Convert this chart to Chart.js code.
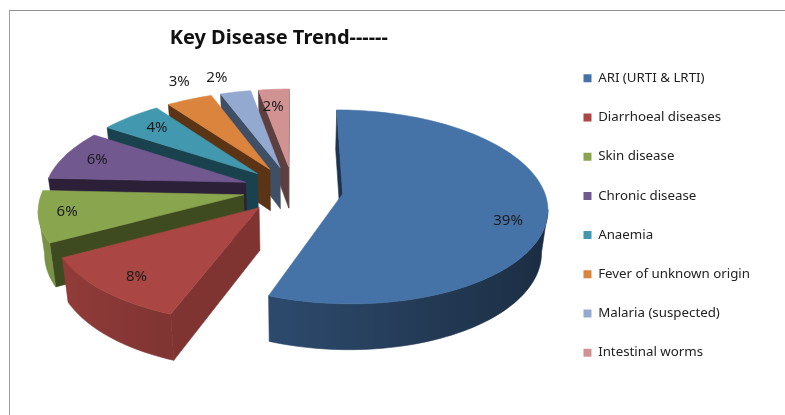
<!DOCTYPE html>
<html>
<head>
<meta charset="utf-8">
<title>Key Disease Trend</title>
<script src="https://cdn.jsdelivr.net/npm/chart.js@4"></script>
<style>
  html, body { margin: 0; padding: 0; background: #fff; width: 785px; height: 415px; overflow: hidden; }
  #frame { position: absolute; left: 9px; top: 10px; width: 776px; height: 405px; border-top: 1.5px solid #8f8f8f; border-left: 1.5px solid #a0a0a0; }
  #myPieChart { position: absolute; left: 0; top: 0; filter: blur(0.35px); }
</style>
</head>
<body>
<div id="frame"></div>
<canvas id="myPieChart" width="785" height="415"></canvas>
<script>
var categories = ["ARI (URTI & LRTI)", "Diarrhoeal diseases", "Skin disease", "Chronic disease", "Anaemia", "Fever of unknown origin", "Malaria (suspected)", "Intestinal worms"];
var percentValues = [39, 8, 6, 6, 4, 3, 2, 2];

var topColors = ['#4572A7', '#AA4643', '#89A54E', '#71588F', '#4198AF', '#DB843D', '#93A9CF', '#D19392'];
var wallColors = ['#1d3450', '#7f3432', '#3e4a20', '#2c2038', '#1a424e', '#5a3414', '#3f4f66', '#5e3f3f'];
var rimLight = [0.58, 0.68, 0.7, 0.4, 0.4, 0.4, 0.45, 0.45];
// how far out each label sits (1 = rim of an unexploded pie), and a small pixel nudge
var labelRadius = [1.05, 1.05, 1.1, 1.07, 1.05, 1.45, 1.5, 1.0];
var labelNudgeX = [2, -1, -3, 0, 3, 4, -9, -4];
var labelNudgeY = [14, 5, -1, 1, 1, -4, 3, 1];

// camera for the tilted pie
var view = { x: 293, y: 189.5, rx: 201, ry: 94, persp: 0.135, explode: 0.25, depth: 42, shrink: 0.975, stretch: 1.034 };

function project(u, v) {
  var w = 1 - view.persp * v;
  return { x: view.x + view.rx * u / w, y: view.y + view.ry * v / w };
}
function drop(p) {
  return { x: view.x + view.shrink * (p.x - view.x), y: view.y + view.depth + view.stretch * (p.y - view.y) };
}
function shade(hex, f) {
  var n = parseInt(hex.slice(1), 16);
  var r = Math.min(255, Math.round((n >> 16) * f));
  var g = Math.min(255, Math.round(((n >> 8) & 255) * f));
  var b = Math.min(255, Math.round((n & 255) * f));
  return 'rgb(' + r + ',' + g + ',' + b + ')';
}
function fillPath(ctx, pts, color) {
  ctx.beginPath();
  ctx.moveTo(pts[0].x, pts[0].y);
  for (var i = 1; i < pts.length; i++) ctx.lineTo(pts[i].x, pts[i].y);
  ctx.closePath();
  ctx.fillStyle = color;
  ctx.strokeStyle = color;
  ctx.lineWidth = 0.6;
  ctx.fill();
  ctx.stroke();
}

// slice outline in pie coordinates, taken from the angles the arc element got from the library
function sliceOutline(arc) {
  var mid = (arc.startAngle + arc.endAngle) / 2;
  var ox = Math.cos(mid) * view.explode, oy = Math.sin(mid) * view.explode;
  var steps = Math.max(4, Math.ceil((arc.endAngle - arc.startAngle) / 0.03));
  var pts = [{ u: 0, p: project(ox, oy), rim: false }];
  for (var s = 0; s <= steps; s++) {
    var a = arc.startAngle + (arc.endAngle - arc.startAngle) * s / steps;
    pts.push({ u: Math.cos(a), p: project(ox + Math.cos(a), oy + Math.sin(a)), rim: true });
  }
  return pts;
}

function drawRim(ctx, run, i) {
  if (run.length < 2) return;
  var xRight = run[0].p.x, xLeft = run[run.length - 1].p.x;
  var grad = ctx.createLinearGradient(xLeft, 0, xRight, 0);
  run.forEach(function (q) {
    grad.addColorStop((q.p.x - xLeft) / (xRight - xLeft), shade(topColors[i], rimLight[i] - 0.2 * q.u));
  });
  var top = run.map(function (q) { return q.p; });
  var bottom = top.map(drop).reverse();
  fillPath(ctx, top.concat(bottom), grad);
}

function drawSlice(ctx, arc, i) {
  var pts = sliceOutline(arc);
  var run = [];
  for (var k = 0; k < pts.length; k++) {
    var a = pts[k], b = pts[(k + 1) % pts.length];
    if (b.p.x >= a.p.x) continue; // faces away from us
    if (a.rim && b.rim) {
      if (!run.length) run.push(a);
      run.push(b);
    } else {
      fillPath(ctx, [a.p, b.p, drop(b.p), drop(a.p)], wallColors[i]);
    }
  }
  drawRim(ctx, run, i);
  fillPath(ctx, pts.map(function (q) { return q.p; }), topColors[i]);
}

var tiltedPie = {
  id: 'tiltedPie',
  beforeDatasetsDraw: function (chart) {
    var ctx = chart.ctx;
    var arcs = chart.getDatasetMeta(0).data;
    ctx.save();
    ctx.lineJoin = 'round';
    for (var i = arcs.length - 1; i >= 0; i--) drawSlice(ctx, arcs[i], i);

    ctx.font = '15px "Noto Sans"';
    ctx.fillStyle = '#1c1c1c';
    ctx.textAlign = 'center';
    ctx.textBaseline = 'middle';
    arcs.forEach(function (arc, i) {
      var mid = (arc.startAngle + arc.endAngle) / 2;
      var p = project(Math.cos(mid) * labelRadius[i], Math.sin(mid) * labelRadius[i]);
      ctx.fillText(percentValues[i] + '%', p.x + labelNudgeX[i], p.y + labelNudgeY[i] - 1);
    });
    ctx.restore();
    return false;
  }
};

function renderPieChart() {
  var ctx = document.getElementById("myPieChart");
  new Chart(ctx, {
    type: 'pie',
    data: {
      labels: categories,
      datasets: [{
        data: percentValues,
        backgroundColor: topColors,
        borderWidth: 0
      }]
    },
    plugins: [tiltedPie],
    options: {
      responsive: false,
      animation: false,
      devicePixelRatio: 1,
      layout: { padding: { top: 16, right: 25 } },
      plugins: {
        tooltip: { enabled: false },
        title: {
          display: true,
          text: 'Key Disease Trend------',
          fullSize: false,
          color: '#111',
          font: { family: '"Noto Sans"', size: 20, weight: 'bold' },
          padding: { top: 10, bottom: 6 }
        },
        legend: {
          position: 'right',
          labels: {
            boxWidth: 8,
            boxHeight: 8,
            padding: 25.9,
            color: '#222',
            font: { family: '"Noto Sans"', size: 13.3 }
          }
        }
      }
    }
  });
}
renderPieChart();
</script>
</body>
</html>
